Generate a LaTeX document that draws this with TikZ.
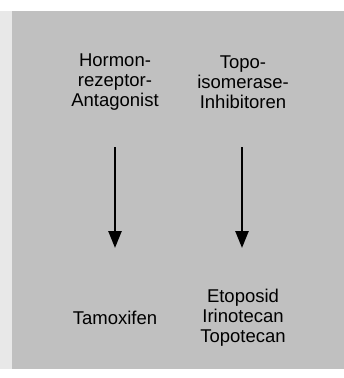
\documentclass[tikz,border=0pt]{standalone}
\usepackage{fontspec}
\setmainfont{Liberation Sans}
\usetikzlibrary{arrows.meta}
\definecolor{panel}{HTML}{C0C0C0}
\definecolor{strip}{HTML}{E8E8E8}
\begin{document}
\begin{tikzpicture}[x=1pt,y=-1pt,
  lbl/.style={align=center,font=\fontsize{18.5}{20}\selectfont,inner sep=0pt},
  arr/.style={line width=2.5pt,-{Triangle[length=17pt,width=13pt]}}]
\useasboundingbox (0,0) rectangle (344,378);
\fill[white] (0,0) rectangle (344,378);
\fill[strip] (0,11) rectangle (12,369);
\fill[panel] (12,11) rectangle (344,369);
\node[lbl] (a1) at (115,82) {Hormon-\\rezeptor-\\Antagonist};
\node[lbl] (b1) at (243,82) {Topo-\\isomerase-\\Inhibitoren};
\node[lbl] (a2) at (115,318) {Tamoxifen};
\node[lbl] (b2) at (243,318) {Etoposid\\Irinotecan\\Topotecan};
\coordinate (a1s) at (115,147);
\coordinate (a2e) at (115,248);
\coordinate (b1s) at (242,147);
\coordinate (b2e) at (242,248);
\draw[arr] (a1s) -- (a2e);
\draw[arr] (b1s) -- (b2e);
\end{tikzpicture}
\end{document}
